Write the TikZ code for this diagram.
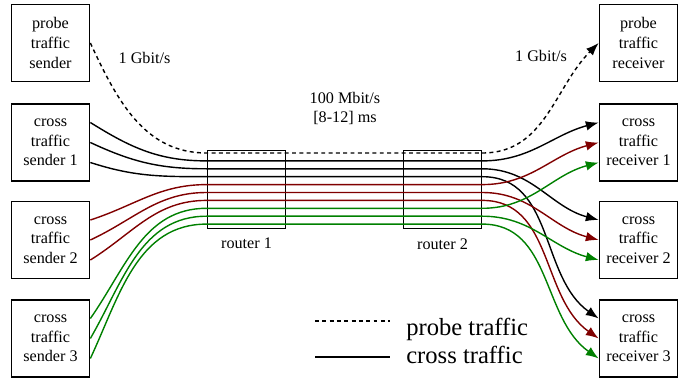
\documentclass[tikz,border=0pt]{standalone}
\usepackage{fontspec}
\setmainfont{Liberation Serif}
\usetikzlibrary{positioning,calc,arrows.meta}

\definecolor{darkred}{RGB}{128,0,0}
\definecolor{darkgreen}{RGB}{0,128,0}

\begin{document}
\begin{tikzpicture}[x=0.025cm,y=0.025cm]
	\tikzset{host/.style={draw,line width=1.2pt,minimum width=1.95cm,minimum height=1.93cm,
			align=center,inner sep=1pt,font=\fontsize{11.5}{14}\selectfont},
		router/.style={draw,line width=1.2pt,minimum size=1.95cm},
		lbl/.style={align=center,font=\fontsize{11.5}{14}\selectfont},
		legendtext/.style={inner sep=0pt,anchor=base west,font=\fontsize{17.5}{21}\selectfont},
		flow/.style={line width=1pt},
		probeflow/.style={flow,dash pattern=on 2.8pt off 2.4pt},
		flowtip/.style={-{Latex[length=3.2mm,width=2.4mm]}}}
	\useasboundingbox (0,0) rectangle (694,381);
	% senders and receivers
	\node[host] (ps) at (50.5,338) {probe\\traffic\\sender};
	\node[host] (s1) at (50.5,238.5) {cross\\traffic\\sender 1};
	\node[host] (s2) at (50.5,141) {cross\\traffic\\sender 2};
	\node[host] (s3) at (50.5,42.5) {cross\\traffic\\sender 3};
	\node[host] (pr) at (638.5,338) {probe\\traffic\\receiver};
	\node[host] (r1) at (638.5,238.5) {cross\\traffic\\receiver 1};
	\node[host] (r2) at (638.5,141) {cross\\traffic\\receiver 2};
	\node[host] (r3) at (638.5,42.5) {cross\\traffic\\receiver 3};
	% bottleneck
	\node[router] (rt1) at (246.5,191.5) {};
	\node[router] (rt2) at (442.5,191.5) {};
	\node[lbl,below=0.1cm of rt1] (rl1) {router 1};
	\node[lbl,below=0.1cm of rt2] (rl2) {router 2};
	\foreach \k in {0,...,9} {
		\coordinate (a\k) at ($(rt1.west)+(0,36.5-7.9*\k)$);
		\coordinate (b\k) at ($(rt2.east)+(0,36.5-7.9*\k)$);
	}
	% link labels
	\node[lbl] (g1) at (144.5,323) {1 Gbit/s};
	\node[lbl] (g2) at (541,325) {1 Gbit/s};
	\node[lbl] (bn) at (345,272.5) {100 Mbit/s\\{[8-12]} ms};
	% probe flow
	\draw[probeflow,flowtip] (ps.east) to[out=-65,in=180] (a0) -- (b0) to[out=0,in=-135] (pr.west);
	% cross flows
	\draw[flow,flowtip] ($(s1.east)+(0,20)$) to[out=-32,in=180] (a1) -- (b1) to[out=0,in=195] ($(r1.west)+(0,20)$);
	\draw[flow,flowtip] (s1.east) to[out=-25,in=180] (a2) -- (b2) to[out=0,in=165] ($(r2.west)+(0,20)$);
	\draw[flow,flowtip] ($(s1.east)+(0,-20)$) to[out=-18,in=180] (a3) -- (b3) to[out=0,in=145] ($(r3.west)+(0,20)$);
	\draw[flow,darkred,flowtip] ($(s2.east)+(0,20)$) to[out=18,in=180] (a4) -- (b4) to[out=0,in=195] (r1.west);
	\draw[flow,darkred,flowtip] (s2.east) to[out=25,in=180] (a5) -- (b5) to[out=0,in=165] (r2.west);
	\draw[flow,darkred,flowtip] ($(s2.east)+(0,-20)$) to[out=32,in=180] (a6) -- (b6) to[out=0,in=145] (r3.west);
	\draw[flow,darkgreen,flowtip] ($(s3.east)+(0,20)$) to[out=55,in=180] (a7) -- (b7) to[out=0,in=195] ($(r1.west)+(0,-20)$);
	\draw[flow,darkgreen,flowtip] (s3.east) to[out=60,in=180] (a8) -- (b8) to[out=0,in=165] ($(r2.west)+(0,-20)$);
	\draw[flow,darkgreen,flowtip] ($(s3.east)+(0,-20)$) to[out=65,in=180] (a9) -- (b9) to[out=0,in=145] ($(r3.west)+(0,-20)$);
	% legend
	\coordinate (lp1) at (315,60);
	\coordinate (lp2) at (390,60);
	\coordinate (lc1) at (315,24);
	\coordinate (lc2) at (390,24);
	\draw[probeflow] (lp1) -- (lp2);
	\draw[flow] (lc1) -- (lc2);
	\node[legendtext] (lprobe) at (406,46) {probe traffic};
	\node[legendtext] (lcross) at (406,18) {cross traffic};
\end{tikzpicture}
\end{document}
